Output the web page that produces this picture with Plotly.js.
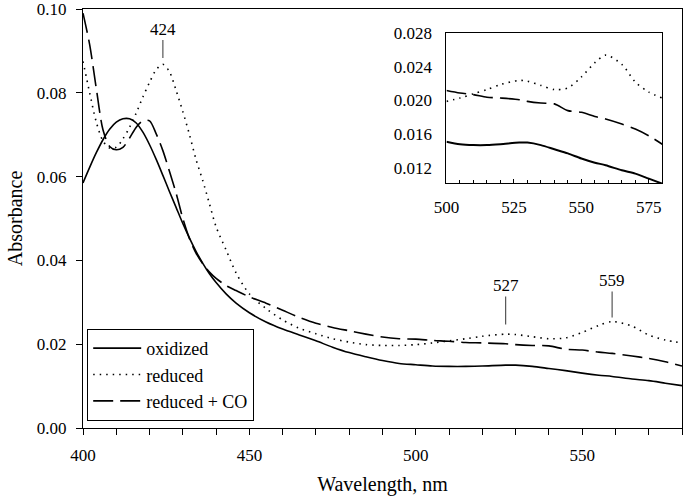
<!DOCTYPE html>
<html>
<head>
<meta charset="utf-8">
<script src="https://cdn.plot.ly/plotly-3.0.1.min.js"></script>
<style>html,body{margin:0;padding:0;background:#fff;}#chart{width:691px;height:500px;}</style>
</head>
<body>
<div id="chart"></div>
<script>
// ---- data ----
const wavelength = [400,402,404,406,408,410,412,414,416,418,420,422,424,426,428,430,432,434,436,438,440,443,446,450,455,460,465,470,475,480,485,490,495,500,505,510,515,520,527,530,535,540,545,550,555,559,565,570,575,580];
const oxidized = [0.0585,0.0622,0.0657,0.0688,0.0713,0.0730,0.0738,0.0738,0.0728,0.0706,0.0676,0.0641,0.0603,0.0564,0.0526,0.0488,0.0453,0.0421,0.0393,0.0368,0.0347,0.0320,0.0298,0.0275,0.0253,0.0236,0.0222,0.0208,0.0193,0.0180,0.0170,0.0161,0.0154,0.0151,0.0148,0.0147,0.0147,0.0148,0.0150,0.0150,0.0147,0.0142,0.0137,0.0131,0.0126,0.0123,0.0117,0.0113,0.0107,0.0101];
const reduced = [0.0875,0.0800,0.0730,0.0685,0.0668,0.0670,0.0690,0.0718,0.0752,0.0790,0.0825,0.0855,0.0868,0.0850,0.0805,0.0755,0.0700,0.0640,0.0590,0.0535,0.0480,0.0425,0.0370,0.0320,0.0285,0.0258,0.0238,0.0225,0.0213,0.0205,0.0199,0.0197,0.0197,0.0199,0.0203,0.0208,0.0213,0.0219,0.0224,0.0223,0.0218,0.0213,0.0215,0.0228,0.0245,0.0254,0.0243,0.0222,0.0210,0.0203];
const reducedCO = [0.0990,0.0915,0.0810,0.0712,0.0672,0.0664,0.0670,0.0692,0.0718,0.0733,0.0733,0.0702,0.0662,0.0612,0.0560,0.0500,0.0452,0.0417,0.0392,0.0372,0.0357,0.0340,0.0328,0.0313,0.0298,0.0281,0.0264,0.0250,0.0240,0.0232,0.0224,0.0217,0.0213,0.0212,0.0209,0.0207,0.0204,0.0203,0.0201,0.0199,0.0197,0.0196,0.0188,0.0186,0.0181,0.0178,0.0172,0.0166,0.0158,0.0148];
const seriesNames = ['oxidized','reduced','reduced + CO'];
const peakLabels = [424, 527, 559];
const mainYTicks = [0, 0.02, 0.04, 0.06, 0.08, 0.10];
const insetXTicks = [500, 525, 550, 575];
const insetYTicks = [0.012, 0.016, 0.020, 0.024, 0.028];

// ---- styling ----
const FONT = 'Liberation Serif, Times New Roman, serif';
const styles = [
  {color:'#000', width:1.6, dash:'solid'},
  {color:'#000', width:1.6, dash:'1.5px,5px'},
  {color:'#000', width:1.6, dash:'20px,7px'}
];
const allSeries = [oxidized, reduced, reducedCO];

const traces = [];
allSeries.forEach((s, i) => {
  traces.push({
    x: wavelength, y: s, name: seriesNames[i], type:'scatter', mode:'lines',
    line: Object.assign({shape:'spline', smoothing:0.8}, styles[i]),
    xaxis:'x', yaxis:'y', showlegend:true, hoverinfo:'skip'
  });
});
// inset: same data, wavelengths >= 500
const insetIdx = wavelength.map((w,i)=>w>=500?i:-1).filter(i=>i>=0);
allSeries.forEach((s, i) => {
  traces.push({
    x: insetIdx.map(k=>wavelength[k]), y: insetIdx.map(k=>s[k]),
    type:'scatter', mode:'lines',
    line: Object.assign({shape:'spline', smoothing:0.8}, styles[i], {width: i===0?1.9:1.6}),
    xaxis:'x2', yaxis:'y2', showlegend:false, hoverinfo:'skip'
  });
});

// peak label geometry (offsets above the reduced curve, in absorbance units)
const peakGeom = [{gap:0.0015, len:0.0043}, {gap:0.0023, len:0.0067}, {gap:0.0010, len:0.0062}];
const shapes = [];
const annotations = [];
peakLabels.forEach((p, i) => {
  const v = reduced[wavelength.indexOf(p)];
  const y0 = v + peakGeom[i].gap, y1 = y0 + peakGeom[i].len;
  shapes.push({type:'line', xref:'x', yref:'y', x0:p, x1:p, y0:y0, y1:y1, line:{color:'#555', width:1.2}});
  annotations.push({xref:'x', yref:'y', x:p, y:y1, yanchor:'bottom', yshift:-1, text:String(p), showarrow:false,
    font:{family:FONT, size:17, color:'#000'}});
});

const layout = {
  width:691, height:500,
  margin:{l:83, r:9, t:9, b:72, pad:0},
  paper_bgcolor:'#fff', plot_bgcolor:'#fff',
  font:{family:FONT, size:17, color:'#000'},
  showlegend:true,
  legend:{x:0.007, y:0.017, xanchor:'left', yanchor:'bottom', bgcolor:'#fff', bordercolor:'#000', borderwidth:1,
    font:{family:FONT, size:18, color:'#000'}, itemwidth:48, tracegroupgap:0},
  xaxis:{domain:[0,1], range:[400,580], tickvals:[400,450,500,550], ticks:'outside', ticklen:6, tickcolor:'#000',
    minor:{dtick:10, ticks:'outside', ticklen:6, tickcolor:'#000'},
    showline:true, linecolor:'#000', linewidth:1, mirror:true, showgrid:false, zeroline:false,
    ticklabelstandoff:6, ticklabeloverflow:'allow', tickfont:{family:FONT, size:17},
    title:{text:'Wavelength, nm', font:{family:FONT, size:20}, standoff:12}},
  yaxis:{domain:[0,1], range:[0,0.1], tickvals:mainYTicks, tickformat:'.2f', ticks:'outside', ticklen:6, tickcolor:'#000',
    showline:true, linecolor:'#000', linewidth:1, mirror:true, showgrid:false, zeroline:false,
    ticklabelstandoff:6, ticklabeloverflow:'allow', tickfont:{family:FONT, size:17},
    title:{text:'Absorbance', font:{family:FONT, size:20}, standoff:8}},
  xaxis2:{domain:[0.6068,0.9671], anchor:'y2', range:[500,580], tickvals:insetXTicks, ticks:'inside', ticklen:4, tickcolor:'#000',
    minor:{dtick:5, ticks:'inside', ticklen:3, tickcolor:'#000'},
    showline:true, linecolor:'#000', linewidth:1, mirror:true, showgrid:false, zeroline:false,
    ticklabelstandoff:9, ticklabeloverflow:'allow', tickfont:{family:FONT, size:17}},
  yaxis2:{domain:[0.585,0.942], anchor:'x2', range:[0.0102,0.028], tickvals:insetYTicks, tickformat:'.3f', ticks:'',
    showline:true, linecolor:'#000', linewidth:1, mirror:true, showgrid:false, zeroline:false,
    ticklabelstandoff:10, ticklabeloverflow:'allow', tickfont:{family:FONT, size:17}},
  shapes:shapes,
  annotations:annotations
};

Plotly.newPlot('chart', traces, layout, {staticPlot:true, displayModeBar:false});
</script>
</body>
</html>
